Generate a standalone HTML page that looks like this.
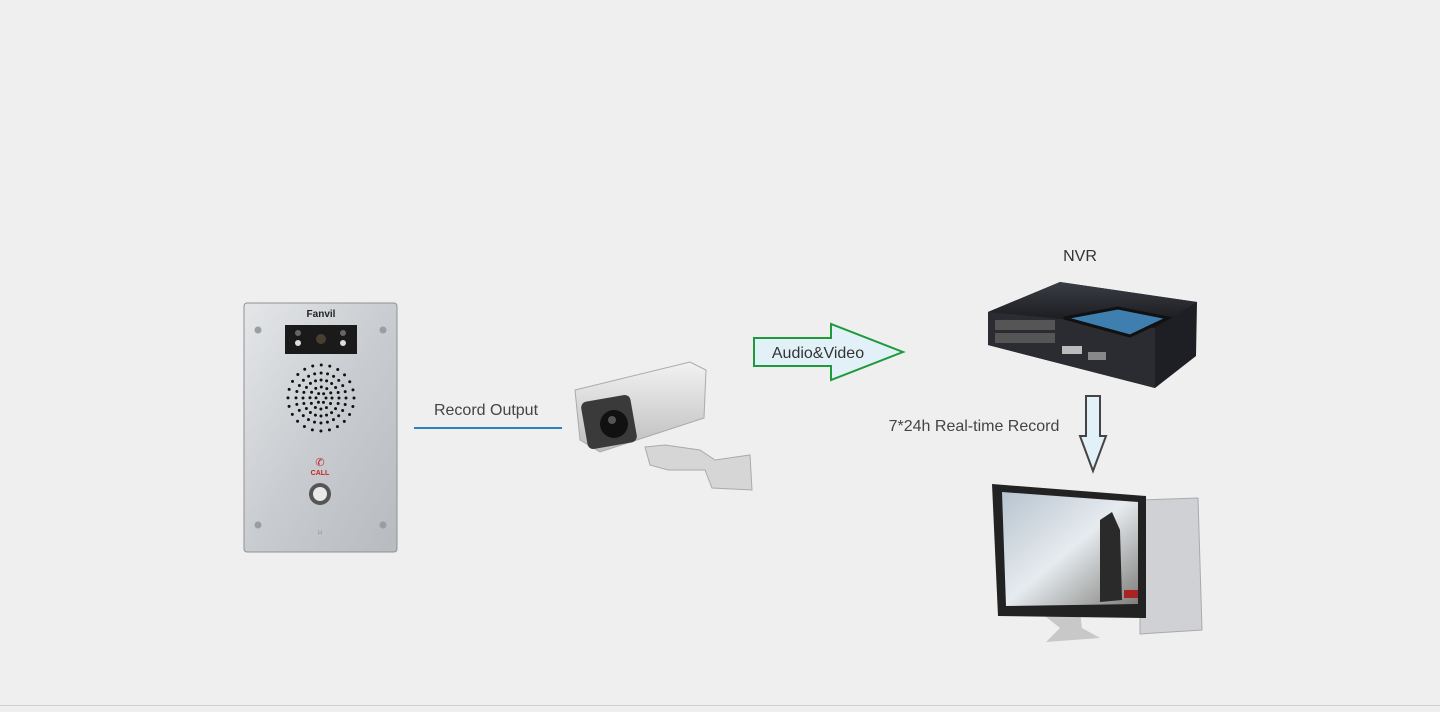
<!DOCTYPE html>
<html><head><meta charset="utf-8"><style>
html,body{margin:0;padding:0}
body{width:1440px;height:707px;background:#efefef;overflow:hidden;font-family:"Liberation Sans",sans-serif}
</style></head><body>
<svg width="1440" height="707" viewBox="0 0 1440 707" xmlns="http://www.w3.org/2000/svg">
<defs>
<linearGradient id="steel" x1="0" y1="0" x2="1" y2="1"><stop offset="0" stop-color="#e4e6e8"/><stop offset="0.5" stop-color="#c9ccd0"/><stop offset="1" stop-color="#b7bbbf"/></linearGradient>
<linearGradient id="cam" x1="0" y1="0" x2="0" y2="1"><stop offset="0" stop-color="#f2f2f2"/><stop offset="1" stop-color="#bdbdbd"/></linearGradient>
<linearGradient id="nvr" x1="0" y1="0" x2="0" y2="1"><stop offset="0" stop-color="#3a3d44"/><stop offset="1" stop-color="#15161a"/></linearGradient>
<linearGradient id="scr" x1="0" y1="0" x2="1" y2="1"><stop offset="0" stop-color="#b7c4cf"/><stop offset="0.5" stop-color="#e6ebef"/><stop offset="1" stop-color="#7d7c78"/></linearGradient>
</defs>
<line x1="0" y1="705.5" x2="1440" y2="705.5" stroke="#d0d0d0"/>
<!-- intercom -->
<rect x="244" y="303" width="153" height="249" rx="3" fill="url(#steel)" stroke="#8d9095"/>
<text x="321" y="317" font-size="10" text-anchor="middle" fill="#222" font-weight="bold">Fanvil</text>
<rect x="285" y="325" width="72" height="29" fill="#1a1a1a"/>
<circle cx="321" cy="339" r="5" fill="#4a3e30"/>
<circle cx="298" cy="333" r="3" fill="#666"/><circle cx="298" cy="343" r="3" fill="#ddd"/>
<circle cx="343" cy="333" r="3" fill="#666"/><circle cx="343" cy="343" r="3" fill="#ddd"/>
<g fill="#9a9da1"><circle cx="258" cy="330" r="3.5"/><circle cx="383" cy="330" r="3.5"/><circle cx="258" cy="525" r="3.5"/><circle cx="383" cy="525" r="3.5"/></g>
<g fill="none" stroke="#111" stroke-linecap="round" stroke-width="3">
<circle cx="321" cy="398" r="33" stroke-dasharray="0 8.64"/>
<circle cx="321" cy="398" r="25" stroke-dasharray="0 6.54"/>
<circle cx="321" cy="398" r="18" stroke-dasharray="0 5.65"/>
<circle cx="321" cy="398" r="11" stroke-dasharray="0 5.76"/>
<circle cx="321" cy="398" r="5" stroke-dasharray="0 5.24"/>
</g>
<text x="320" y="466" font-size="11" fill="#c0282a" text-anchor="middle">✆</text>
<text x="320" y="475" font-size="7" fill="#c0282a" text-anchor="middle" font-weight="bold">CALL</text>
<circle cx="320" cy="494" r="11" fill="#555"/><circle cx="320" cy="494" r="7" fill="#e9e9e9"/>
<text x="320" y="535" font-size="7" fill="#333" text-anchor="middle">⁙</text>
<!-- Record Output -->
<text x="486" y="415" font-size="16" fill="#444" text-anchor="middle">Record Output</text>
<line x1="414" y1="428" x2="562" y2="428" stroke="#2a82b8" stroke-width="2"/>
<!-- camera -->
<path d="M645 447 L665 445 L700 450 L715 460 L750 455 L752 490 L712 488 L705 470 L668 470 L650 465 Z" fill="#d6d6d6" stroke="#aaa"/>
<path d="M575 390 L690 362 L706 370 L704 418 L600 452 L580 440 Z" fill="url(#cam)" stroke="#aaa"/>
<rect x="584" y="398" width="50" height="48" rx="6" fill="#3a3a3a" transform="rotate(-10 609 422)"/>
<circle cx="614" cy="424" r="14" fill="#111"/><circle cx="612" cy="420" r="4" fill="#555"/>
<!-- audio arrow -->
<path d="M754 338 L831 338 L831 324 L903 352 L831 380 L831 366 L754 366 Z" fill="#e2f1f8" stroke="#1e9a3a" stroke-width="2"/>
<text x="818" y="358" font-size="16" fill="#333" text-anchor="middle">Audio&amp;Video</text>
<!-- NVR -->
<text x="1080" y="261" font-size="16" fill="#333" text-anchor="middle">NVR</text>
<path d="M988 312 L1060 282 L1197 302 L1196 356 L1155 388 L988 345 Z" fill="#1d1f24"/>
<path d="M988 312 L1060 282 L1197 302 L1155 328 Z" fill="url(#nvr)"/>
<path d="M988 312 L1155 328 L1155 388 L988 345 Z" fill="#2a2c31"/>
<path d="M1064 318 L1118 308 L1168 318 L1130 336 Z" fill="#3f7fb0" stroke="#111" stroke-width="3"/>
<g fill="#555"><rect x="995" y="320" width="60" height="10"/><rect x="995" y="333" width="60" height="10"/></g>
<rect x="1062" y="346" width="20" height="8" fill="#bbb"/><rect x="1088" y="352" width="18" height="8" fill="#888"/>
<!-- record arrow -->
<text x="974" y="431" font-size="16" fill="#444" text-anchor="middle">7*24h Real-time Record</text>
<path d="M1086 396 L1100 396 L1100 436 L1106 436 L1093 471 L1080 436 L1086 436 Z" fill="#e2f1f8" stroke="#444" stroke-width="2"/>
<!-- monitor / computer -->
<path d="M1140 500 L1198 498 L1202 630 L1140 634 Z" fill="#cfd1d4" stroke="#aaa"/>
<path d="M1040 612 L1080 612 L1082 628 L1100 638 L1046 642 L1060 628 Z" fill="#c8c8c8"/>
<path d="M992 484 L1146 496 L1146 618 L998 616 Z" fill="#222"/>
<path d="M1002 492 L1138 502 L1138 604 L1006 606 Z" fill="url(#scr)"/>
<path d="M1100 520 L1112 512 L1120 530 L1122 600 L1100 602 Z" fill="#2a2a2a"/>
<rect x="1124" y="590" width="14" height="8" fill="#a22"/>
</svg>
</body></html>
